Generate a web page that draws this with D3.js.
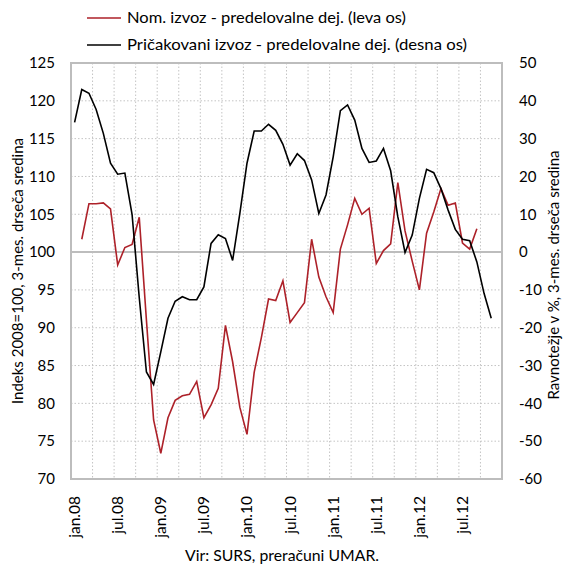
<!DOCTYPE html>
<html>
<head>
<meta charset="utf-8">
<script src="https://cdn.jsdelivr.net/npm/d3@7"></script>
<style>
  body { margin: 0; background: #fff; }
  text { font-family: Lato, "Open Sans", sans-serif; fill: #000; }
</style>
</head>
<body>
<div id="chart"></div>
<script>
// months jan.08 .. dec.12
const monthNames = ["jan", "feb", "mar", "apr", "maj", "jun", "jul", "avg", "sep", "okt", "nov", "dec"];
const years = ["08", "09", "10", "11", "12"];
const categories = [];
years.forEach(y => monthNames.forEach(m => categories.push(m + "." + y)));

const tickLabels = ["jan.08", "jul.08", "jan.09", "jul.09", "jan.10", "jul.10", "jan.11", "jul.11", "jan.12", "jul.12"];
const leftTicks = [70, 75, 80, 85, 90, 95, 100, 105, 110, 115, 120, 125];
const rightTicks = [-60, -50, -40, -30, -20, -10, 0, 10, 20, 30, 40, 50];

// Nom. izvoz (leva os), feb.08 .. sep.12
const nomIzvoz = [
  null, 101.7, 106.4, 106.4, 106.5, 105.7, 98.3, 100.6, 101.0, 104.6, 91.0, 77.8,
  73.4, 78.1, 80.4, 81.0, 81.2, 82.9, 78.1, 79.8, 82.0, 90.3, 85.5, 79.5,
  75.9, 84.1, 88.7, 93.8, 93.6, 96.2, 90.7, 92.0, 93.3, 101.7, 96.7, 94.1,
  92.0, 100.4, 103.6, 107.1, 105.0, 105.8, 98.5, 100.2, 101.1, 109.2, 102.8, 98.8,
  95.0, 102.5, 105.3, 108.4, 106.2, 106.5, 101.2, 100.4, 103.1, null, null, null
];
// Pričakovani izvoz (desna os), jan.08 .. nov.12
const pricIzvoz = [
  34.3, 43.0, 42.0, 37.7, 31.4, 23.5, 20.6, 20.9, 10.0, -12.0, -31.7, -35.0,
  -26.4, -17.5, -13.0, -11.8, -12.6, -12.6, -9.2, 2.3, 4.6, 3.6, -2.2, 10.2,
  23.5, 32.0, 32.0, 33.8, 32.2, 28.5, 23.0, 26.0, 24.2, 19.1, 10.2, 15.1,
  25.2, 37.4, 38.9, 34.9, 27.4, 23.7, 24.1, 27.4, 21.5, 9.3, -0.1, 4.5,
  14.2, 21.9, 21.0, 16.8, 11.1, 6.0, 3.4, 3.0, -2.6, -10.9, -17.5, null
];

const W = 565, H = 566;
const plot = {left: 71, right: 502, top: 63, bottom: 479};

const svg = d3.select("#chart").append("svg")
    .attr("width", W)
    .attr("height", H);

const x = d3.scaleBand()
    .domain(categories)
    .range([plot.left, plot.right]);

const yL = d3.scaleLinear().domain([70, 125]).range([plot.bottom, plot.top]);
const yR = d3.scaleLinear().domain([-60, 50]).range([plot.bottom, plot.top]);

const cx = i => x(categories[i]) + x.bandwidth() / 2;

// horizontal grid (dotted)
svg.append("g")
    .selectAll("line")
    .data(leftTicks.filter(v => v !== 70 && v !== 125 && v !== 100))
    .join("line")
    .attr("x1", plot.left).attr("x2", plot.right)
    .attr("y1", d => yL(d)).attr("y2", d => yL(d))
    .attr("stroke", "#c4c4c4")
    .attr("stroke-dasharray", "1.5,2");

// vertical grid every 3 months
svg.append("g")
    .selectAll("line")
    .data(categories.filter((c, i) => i > 0 && i % 3 === 0))
    .join("line")
    .attr("x1", d => x(d)).attr("x2", d => x(d))
    .attr("y1", plot.top).attr("y2", plot.bottom)
    .attr("stroke", "#c4c4c4")
    .attr("stroke-dasharray", "1.5,2");

// zero line
svg.append("line")
    .attr("x1", plot.left).attr("x2", plot.right)
    .attr("y1", yL(100)).attr("y2", yL(100))
    .attr("stroke", "#bdbdbd")
    .attr("stroke-width", 2);

// frame
svg.append("rect")
    .attr("x", plot.left).attr("y", plot.top)
    .attr("width", plot.right - plot.left)
    .attr("height", plot.bottom - plot.top)
    .attr("fill", "none")
    .attr("stroke", "#bdbdbd")
    .attr("stroke-width", 2);

// lines
const lineL = d3.line()
    .defined(d => d != null)
    .x((d, i) => cx(i))
    .y(d => yL(d));
const lineR = d3.line()
    .defined(d => d != null)
    .x((d, i) => cx(i))
    .y(d => yR(d));

svg.append("path")
    .attr("d", lineL(nomIzvoz))
    .attr("fill", "none")
    .attr("stroke", "#ad2129")
    .attr("stroke-width", 1.6);

svg.append("path")
    .attr("d", lineR(pricIzvoz))
    .attr("fill", "none")
    .attr("stroke", "#000")
    .attr("stroke-width", 1.6);

// left axis labels
svg.append("g")
    .selectAll("text")
    .data(leftTicks)
    .join("text")
    .attr("x", 55)
    .attr("y", d => yL(d))
    .attr("dy", "0.35em")
    .attr("text-anchor", "end")
    .style("font-size", "15px")
    .text(d => d);

// right axis labels
svg.append("g")
    .selectAll("text")
    .data(rightTicks)
    .join("text")
    .attr("x", 519)
    .attr("y", d => yR(d))
    .attr("dy", "0.35em")
    .attr("text-anchor", "start")
    .style("font-size", "15px")
    .text(d => d);

// x labels
svg.append("g")
    .selectAll("text")
    .data(tickLabels)
    .join("text")
    .attr("transform", d => "translate(" + (x(d) + x.bandwidth() / 2) + ",496) rotate(-90)")
    .attr("dy", "0.35em")
    .attr("text-anchor", "end")
    .style("font-size", "15.5px")
    .text(d => d);

// axis titles
svg.append("text")
    .attr("transform", "translate(18," + ((plot.top + plot.bottom) / 2) + ") rotate(-90)")
    .attr("dy", "0.35em")
    .attr("text-anchor", "middle")
    .style("font-size", "15px")
    .text("Indeks 2008=100, 3-mes. drseča sredina");

svg.append("text")
    .attr("transform", "translate(554," + ((plot.top + plot.bottom) / 2 + 4) + ") rotate(-90)")
    .attr("dy", "0.35em")
    .attr("text-anchor", "middle")
    .style("font-size", "15px")
    .text("Ravnotežje v %, 3-mes. drseča sredina");

// legend
const legend = [
  {name: "Nom. izvoz - predelovalne dej. (leva os)", color: "#ad2129", len: 279},
  {name: "Pričakovani izvoz - predelovalne dej. (desna os)", color: "#000", len: 340}
];
const lg = svg.append("g")
    .selectAll("g")
    .data(legend)
    .join("g")
    .attr("transform", (d, i) => "translate(87," + (18 + i * 27) + ")");
lg.append("line")
    .attr("x1", 0).attr("x2", 34)
    .attr("stroke", d => d.color)
    .attr("stroke-width", 1.6);
lg.append("text")
    .attr("x", 40)
    .attr("dy", "0.35em")
    .attr("textLength", d => d.len)
    .attr("lengthAdjust", "spacingAndGlyphs")
    .style("font-size", "15px")
    .text(d => d.name);

// source
svg.append("text")
    .attr("x", 282)
    .attr("y", 561)
    .attr("text-anchor", "middle")
    .attr("textLength", 194)
    .attr("lengthAdjust", "spacingAndGlyphs")
    .style("font-size", "15px")
    .text("Vir: SURS, preračuni UMAR.");
</script>
</body>
</html>
